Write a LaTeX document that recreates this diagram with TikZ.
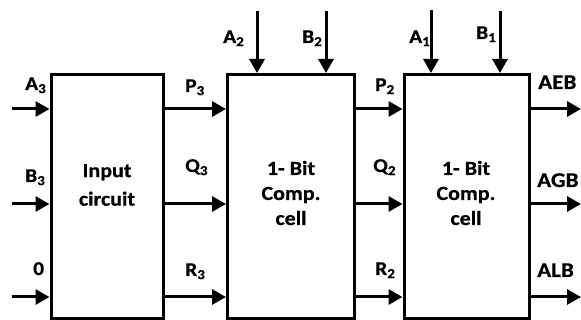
\documentclass[tikz,border=0pt]{standalone}
\usepackage{fontspec}
\setmainfont{Carlito}[FakeStretch=1.1, BoldFeatures={FakeBold=0.6}]
\usepackage{tikz}
\usetikzlibrary{arrows.meta,positioning}

\begin{document}
\begin{tikzpicture}[
  x=1pt, y=-1pt,
  cell/.style={draw, line width=3pt, minimum height=244pt, inner sep=0pt},
  sig/.style={-{Triangle[length=14pt,width=15pt]}, line width=3pt},
  lbl/.style={inner sep=0pt, anchor=base west, font=\bfseries\fontsize{19.5}{22}\selectfont},
  outlbl/.style={lbl, font=\bfseries\fontsize{21}{24}\selectfont},
  txt/.style={inner sep=0pt, align=center, font=\bfseries\fontsize{20}{25}\selectfont}
]
\useasboundingbox (0,0) rectangle (581,320);

% Blocks
\node[cell, minimum width=112.5pt] (inp) at (107.25,196.5) {};
\node[cell, minimum width=126.5pt] (cmp2) at (290.75,196.5) {};
\node[cell, minimum width=125.5pt] (cmp1) at (466.75,196.5) {};

\node[txt, font=\bfseries\fontsize{20}{28.5}\selectfont] (inptxt) at (107,185) {Input\\circuit};
\node[txt] (cmp2txt) at (291,193) {1- Bit\\Comp.\\cell};
\node[txt] (cmp1txt) at (466,193) {1- Bit\\Comp.\\cell};

% Rows and free ends
\coordinate (rowP) at (0,109);
\coordinate (rowQ) at (0,204);
\coordinate (rowR) at (0,297);
\coordinate (inA) at (12,109);
\coordinate (inB) at (12,204);
\coordinate (inZ) at (12,297);
\coordinate (topA2) at (257,11);
\coordinate (topB2) at (326,11);
\coordinate (topA1) at (431,10);
\coordinate (topB1) at (500,11);
\coordinate (outE) at (581,109);
\coordinate (outG) at (581,204);
\coordinate (outL) at (581,297);

% Arrows
\draw[sig] (inA) -- (inp.west |- inA);
\draw[sig] (inB) -- (inp.west |- inB);
\draw[sig] (inZ) -- (inp.west |- inZ);
\draw[sig] (inp.east |- rowP) -- (cmp2.west |- rowP);
\draw[sig] (inp.east |- rowQ) -- (cmp2.west |- rowQ);
\draw[sig] (inp.east |- rowR) -- (cmp2.west |- rowR);
\draw[sig] (cmp2.east |- rowP) -- (cmp1.west |- rowP);
\draw[sig] (cmp2.east |- rowQ) -- (cmp1.west |- rowQ);
\draw[sig] (cmp2.east |- rowR) -- (cmp1.west |- rowR);
\draw[sig] (cmp1.east |- outE) -- (outE);
\draw[sig] (cmp1.east |- outG) -- (outG);
\draw[sig] (cmp1.east |- outL) -- (outL);
\draw[sig] (topA2) -- (cmp2.north -| topA2);
\draw[sig] (topB2) -- (cmp2.north -| topB2);
\draw[sig] (topA1) -- (cmp1.north -| topA1);
\draw[sig] (topB1) -- (cmp1.north -| topB1);

% Labels
\node[lbl] (lA3) at (25,90) {A\textsubscript{3}};
\node[lbl] (lB3) at (25,182) {B\textsubscript{3}};
\node[lbl] (lzero) at (33,275) {0};
\node[lbl] (lP3) at (185,92) {P\textsubscript{3}};
\node[lbl] (lQ3) at (185,172) {Q\textsubscript{3}};
\node[lbl] (lR3) at (185,276) {R\textsubscript{3}};
\node[lbl] (lP2) at (375,91) {P\textsubscript{2}};
\node[lbl] (lQ2) at (373,172) {Q\textsubscript{2}};
\node[lbl] (lR2) at (375,275) {R\textsubscript{2}};
\node[lbl] (lA2) at (223,43) {A\textsubscript{2}};
\node[lbl] (lB2) at (302,43) {B\textsubscript{2}};
\node[lbl] (lA1) at (409,43) {A\textsubscript{1}};
\node[lbl] (lB1) at (476,39) {B\textsubscript{1}};
\node[outlbl] (lAEB) at (538,89) {AEB};
\node[outlbl] (lAGB) at (537,187) {AGB};
\node[outlbl] (lALB) at (537,277) {ALB};

\end{tikzpicture}
\end{document}
